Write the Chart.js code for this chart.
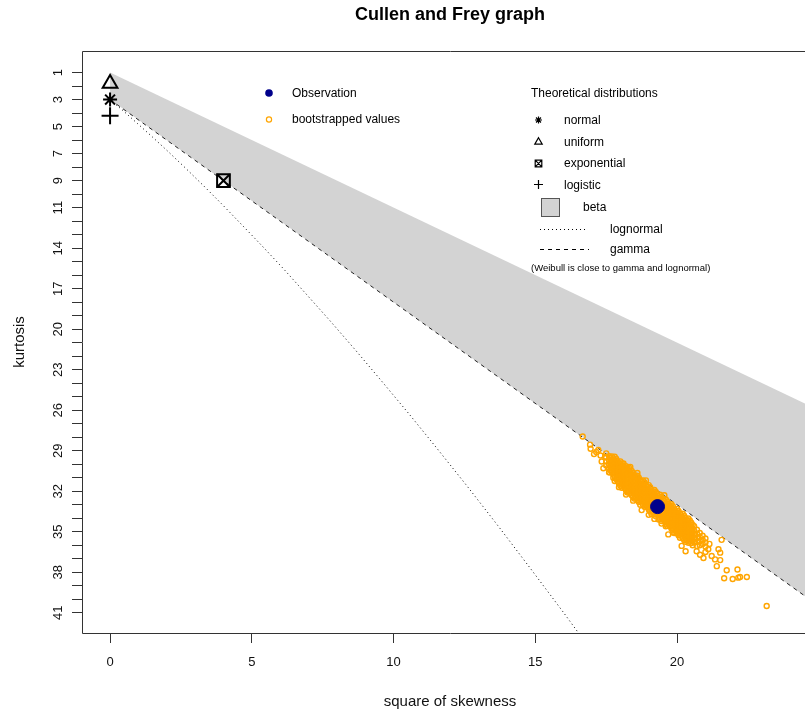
<!DOCTYPE html>
<html lang="en">
  <head>
    <meta charset="UTF-8" />
    <title>Cullen and Frey graph</title>
    <style>
      html, body { margin: 0; padding: 0; background: #fff; overflow: hidden; }
      #wrap { width: 805px; height: 714px; overflow: hidden; position: relative; }
    </style>
  </head>
  <body>
    <div id="wrap">
      <canvas id="cullenFrey" width="818" height="714"></canvas>
    </div>
    <script src="https://cdn.jsdelivr.net/npm/chart.js"></script>
    <script>
      // axis ticks
      const xTickValues = [0, 5, 10, 15, 20];
      const yTickLabels = [1, 3, 5, 7, 9, 11, 14, 17, 20, 23, 26, 29, 32, 35, 38, 41];

      // observed point (square of skewness, kurtosis)
      const observation = [19.31, 33.14];

      // theoretical distributions
      const normalPoint = [0, 3];
      const uniformPoint = [0, 1.8];
      const exponentialPoint = [4, 9];
      const logisticPoint = [0, 4.2];

      // beta region upper limit and gamma line (lower limit)
      const betaSkew = [0, 25];
      const betaKurt = [1, 26];
      const gammaSkew = [0, 25];
      const gammaKurt = [3, 40.5];

      // lognormal curve
      const lognormalSkew = [0, 0.47, 0.96, 1.49, 2.05, 2.64, 3.27, 3.93, 4.62, 5.36, 6.13, 6.93, 7.78, 8.66, 9.58, 10.55, 11.55, 12.6, 13.69, 14.82, 16.0, 17.22];
      const lognormalKurt = [3, 3.84, 4.76, 5.76, 6.85, 8.03, 9.32, 10.71, 12.21, 13.83, 15.56, 17.43, 19.43, 21.56, 23.85, 26.29, 28.88, 31.64, 34.58, 37.7, 41.0, 44.5];

      // bootstrapped values [square of skewness, kurtosis]
      const bootstrapPoints = [
        [17.5, 29.2], [17.5, 29.5], [17.5, 29.8], [17.5, 30.1],
        [17.6, 29.4], [17.6, 29.7], [17.6, 30.0], [17.6, 30.3], [17.6, 30.6],
        [17.65, 29.55], [17.65, 29.85], [17.65, 30.15], [17.65, 30.45],
        [17.7, 29.42], [17.7, 29.72], [17.7, 30.02], [17.7, 30.32], [17.7, 30.62],
        [17.75, 29.57], [17.75, 29.87], [17.75, 30.17], [17.75, 30.47], [17.75, 30.77],
        [17.8, 29.44], [17.8, 29.74], [17.8, 30.04], [17.8, 30.34], [17.8, 30.64], [17.8, 30.94], [17.8, 31.24],
        [17.85, 29.59], [17.85, 29.89], [17.85, 30.19], [17.85, 30.49], [17.85, 30.79], [17.85, 31.09],
        [17.9, 29.77], [17.9, 30.07], [17.9, 30.37], [17.9, 30.67], [17.9, 30.97], [17.9, 31.27],
        [17.95, 29.92], [17.95, 30.22], [17.95, 30.52], [17.95, 30.82], [17.95, 31.12], [17.95, 31.42],
        [18.0, 29.79], [18.0, 30.09], [18.0, 30.39], [18.0, 30.69], [18.0, 30.99], [18.0, 31.29], [18.0, 31.59],
        [18.05, 29.94], [18.05, 30.24], [18.05, 30.54], [18.05, 30.84], [18.05, 31.14], [18.05, 31.44], [18.05, 31.74],
        [18.1, 30.12], [18.1, 30.42], [18.1, 30.72], [18.1, 31.02], [18.1, 31.32], [18.1, 31.62],
        [18.15, 30.27], [18.15, 30.57], [18.15, 30.87], [18.15, 31.17], [18.15, 31.47], [18.15, 31.77],
        [18.2, 30.15], [18.2, 30.45], [18.2, 30.75], [18.2, 31.05], [18.2, 31.35], [18.2, 31.65], [18.2, 31.95],
        [18.25, 30.3], [18.25, 30.6], [18.25, 30.9], [18.25, 31.2], [18.25, 31.5], [18.25, 31.8], [18.25, 32.1],
        [18.3, 30.47], [18.3, 30.77], [18.3, 31.07], [18.3, 31.37], [18.3, 31.67], [18.3, 31.97],
        [18.35, 30.62], [18.35, 30.92], [18.35, 31.22], [18.35, 31.52], [18.35, 31.82], [18.35, 32.12],
        [18.4, 30.5], [18.4, 30.8], [18.4, 31.1], [18.4, 31.4], [18.4, 31.7], [18.4, 32.0], [18.4, 32.3],
        [18.45, 30.65], [18.45, 30.95], [18.45, 31.25], [18.45, 31.55], [18.45, 31.85], [18.45, 32.15], [18.45, 32.45],
        [18.5, 30.82], [18.5, 31.12], [18.5, 31.42], [18.5, 31.72], [18.5, 32.02], [18.5, 32.32],
        [18.55, 30.97], [18.55, 31.27], [18.55, 31.57], [18.55, 31.87], [18.55, 32.17], [18.55, 32.47],
        [18.6, 30.85], [18.6, 31.15], [18.6, 31.45], [18.6, 31.75], [18.6, 32.05], [18.6, 32.35], [18.6, 32.65],
        [18.65, 31.0], [18.65, 31.3], [18.65, 31.6], [18.65, 31.9], [18.65, 32.2], [18.65, 32.5], [18.65, 32.8],
        [18.7, 31.18], [18.7, 31.48], [18.7, 31.78], [18.7, 32.08], [18.7, 32.38], [18.7, 32.68],
        [18.75, 31.33], [18.75, 31.63], [18.75, 31.93], [18.75, 32.23], [18.75, 32.53], [18.75, 32.83],
        [18.8, 31.2], [18.8, 31.5], [18.8, 31.8], [18.8, 32.1], [18.8, 32.4], [18.8, 32.7], [18.8, 33.0],
        [18.85, 31.35], [18.85, 31.65], [18.85, 31.95], [18.85, 32.25], [18.85, 32.55], [18.85, 32.85], [18.85, 33.15],
        [18.9, 31.53], [18.9, 31.83], [18.9, 32.13], [18.9, 32.43], [18.9, 32.73], [18.9, 33.03],
        [18.95, 31.68], [18.95, 31.98], [18.95, 32.28], [18.95, 32.58], [18.95, 32.88], [18.95, 33.18],
        [19.0, 31.55], [19.0, 31.85], [19.0, 32.15], [19.0, 32.45], [19.0, 32.75], [19.0, 33.05], [19.0, 33.35],
        [19.05, 31.7], [19.05, 32.0], [19.05, 32.3], [19.05, 32.6], [19.05, 32.9], [19.05, 33.2], [19.05, 33.5],
        [19.1, 31.88], [19.1, 32.18], [19.1, 32.48], [19.1, 32.78], [19.1, 33.08], [19.1, 33.38],
        [19.15, 32.03], [19.15, 32.33], [19.15, 32.63], [19.15, 32.93], [19.15, 33.23], [19.15, 33.53],
        [19.2, 31.91], [19.2, 32.21], [19.2, 32.51], [19.2, 32.81], [19.2, 33.11], [19.2, 33.41], [19.2, 33.71],
        [19.25, 32.06], [19.25, 32.36], [19.25, 32.66], [19.25, 32.96], [19.25, 33.26], [19.25, 33.56], [19.25, 33.86],
        [19.3, 32.23], [19.3, 32.53], [19.3, 32.83], [19.3, 33.13], [19.3, 33.43], [19.3, 33.73],
        [19.35, 32.38], [19.35, 32.68], [19.35, 32.98], [19.35, 33.28], [19.35, 33.58], [19.35, 33.88],
        [19.4, 32.26], [19.4, 32.56], [19.4, 32.86], [19.4, 33.16], [19.4, 33.46], [19.4, 33.76], [19.4, 34.06],
        [19.45, 32.41], [19.45, 32.71], [19.45, 33.01], [19.45, 33.31], [19.45, 33.61], [19.45, 33.91], [19.45, 34.21],
        [19.5, 32.58], [19.5, 32.88], [19.5, 33.18], [19.5, 33.48], [19.5, 33.78], [19.5, 34.08],
        [19.55, 32.73], [19.55, 33.03], [19.55, 33.33], [19.55, 33.63], [19.55, 33.93], [19.55, 34.23],
        [19.6, 32.61], [19.6, 32.91], [19.6, 33.21], [19.6, 33.51], [19.6, 33.81], [19.6, 34.11], [19.6, 34.41],
        [19.65, 32.76], [19.65, 33.06], [19.65, 33.36], [19.65, 33.66], [19.65, 33.96], [19.65, 34.26], [19.65, 34.56],
        [19.7, 32.94], [19.7, 33.24], [19.7, 33.54], [19.7, 33.84], [19.7, 34.14], [19.7, 34.44],
        [19.75, 33.09], [19.75, 33.39], [19.75, 33.69], [19.75, 33.99], [19.75, 34.29], [19.75, 34.59],
        [19.8, 32.96], [19.8, 33.26], [19.8, 33.56], [19.8, 33.86], [19.8, 34.16], [19.8, 34.46], [19.8, 34.76],
        [19.85, 33.11], [19.85, 33.41], [19.85, 33.71], [19.85, 34.01], [19.85, 34.31], [19.85, 34.61], [19.85, 34.91],
        [19.9, 33.29], [19.9, 33.59], [19.9, 33.89], [19.9, 34.19], [19.9, 34.49], [19.9, 34.79],
        [19.95, 33.44], [19.95, 33.74], [19.95, 34.04], [19.95, 34.34], [19.95, 34.64], [19.95, 34.94],
        [20.0, 33.31], [20.0, 33.61], [20.0, 33.91], [20.0, 34.21], [20.0, 34.51], [20.0, 34.81], [20.0, 35.11],
        [20.05, 33.46], [20.05, 33.76], [20.05, 34.06], [20.05, 34.36], [20.05, 34.66], [20.05, 34.96], [20.05, 35.26],
        [20.1, 33.64], [20.1, 33.94], [20.1, 34.24], [20.1, 34.54], [20.1, 34.84], [20.1, 35.14],
        [20.15, 33.79], [20.15, 34.09], [20.15, 34.39], [20.15, 34.69], [20.15, 34.99], [20.15, 35.29],
        [20.2, 33.67], [20.2, 33.97], [20.2, 34.27], [20.2, 34.57], [20.2, 34.87], [20.2, 35.17], [20.2, 35.47],
        [20.25, 33.82], [20.25, 34.12], [20.25, 34.42], [20.25, 34.72], [20.25, 35.02], [20.25, 35.32], [20.25, 35.62],
        [20.3, 33.99], [20.3, 34.29], [20.3, 34.59], [20.3, 34.89], [20.3, 35.19], [20.3, 35.49],
        [20.35, 34.14], [20.35, 34.44], [20.35, 34.74], [20.35, 35.04], [20.35, 35.34], [20.35, 35.64],
        [20.4, 34.02], [20.4, 34.32], [20.4, 34.62], [20.4, 34.92], [20.4, 35.22], [20.4, 35.52], [20.4, 35.82],
        [20.45, 34.17], [20.45, 34.47], [20.45, 34.77], [20.45, 35.07], [20.45, 35.37], [20.45, 35.67],
        [20.5, 34.34], [20.5, 34.64], [20.5, 34.94], [20.5, 35.24], [20.5, 35.54], [20.5, 35.84],
        [20.55, 34.49], [20.55, 34.79], [20.55, 35.09], [20.55, 35.39], [20.55, 35.69],
        [20.6, 34.6], [20.6, 34.9], [20.6, 35.2], [20.6, 35.5], [20.6, 35.8],
        [20.7, 34.85], [20.7, 35.15], [20.7, 35.45], [20.7, 35.75], [20.7, 36.05],
        [20.8, 35.1], [20.8, 35.4], [20.8, 35.7], [20.8, 36.0],
        [20.9, 35.3], [20.9, 35.6], [20.9, 35.9],
        [21.0, 35.5], [21.0, 35.8], [21.0, 36.1],
        [16.67, 27.95], [16.93, 28.55], [16.95, 28.85], [17.07, 29.25], [17.22, 28.95],
        [17.15, 29.1], [17.3, 29.35], [17.34, 29.8], [17.46, 29.45], [17.61, 30.6],
        [17.4, 30.3], [17.75, 31.0], [18.11, 29.95], [17.95, 31.35], [18.25, 32.0],
        [18.5, 32.55], [18.75, 33.4], [19.0, 33.75], [19.2, 34.05], [19.45, 34.4],
        [19.69, 35.2], [19.9, 35.1], [20.1, 35.45], [20.16, 36.05], [20.3, 36.45],
        [20.55, 36.0], [20.69, 36.45], [20.81, 36.7], [20.93, 36.95], [21.0, 36.5],
        [21.1, 36.3], [21.14, 35.9], [21.22, 36.8], [21.34, 37.05], [21.46, 36.3],
        [21.52, 36.55], [21.57, 35.6], [21.4, 37.55], [21.52, 37.1], [21.75, 37.85],
        [22.13, 37.8], [21.66, 38.45], [21.96, 38.5], [22.16, 38.4], [22.22, 38.35],
        [22.46, 38.35], [23.16, 40.5], [18.35, 30.2], [18.9, 31.2], [19.55, 32.3],
        [18.45, 32.7], [18.7, 33.0], [19.1, 33.7], [19.35, 34.1], [19.6, 34.6],
        [19.85, 35.05], [20.3, 35.75], [18.2, 32.25], [17.95, 31.7], [18.3, 30.25], [18.6, 30.65]
      ];

      const FONT = '"Liberation Sans", Arial, Helvetica, sans-serif';
      Chart.defaults.font.family = FONT;

      const toXY = (xs, ys) => xs.map((x, i) => ({ x: x, y: ys[i] }));
      const onePoint = (p) => [{ x: p[0], y: p[1] }];

      // small symbols for the hand-placed legends
      function symbol(ctx, style, x, y, r) {
        ctx.beginPath();
        if (style === "circle") {
          ctx.arc(x, y, r, 0, Math.PI * 2);
        } else if (style === "triangle") {
          ctx.moveTo(x, y - r);
          ctx.lineTo(x + r * 0.866, y + r / 2);
          ctx.lineTo(x - r * 0.866, y + r / 2);
          ctx.closePath();
        } else if (style === "cross") {
          ctx.moveTo(x - r, y); ctx.lineTo(x + r, y);
          ctx.moveTo(x, y - r); ctx.lineTo(x, y + r);
        } else if (style === "star") {
          const d = r * 0.707;
          ctx.moveTo(x - r, y); ctx.lineTo(x + r, y);
          ctx.moveTo(x, y - r); ctx.lineTo(x, y + r);
          ctx.moveTo(x - d, y - d); ctx.lineTo(x + d, y + d);
          ctx.moveTo(x - d, y + d); ctx.lineTo(x + d, y - d);
        } else if (style === "boxX") {
          ctx.rect(x - r, y - r, 2 * r, 2 * r);
          ctx.moveTo(x - r, y - r); ctx.lineTo(x + r, y + r);
          ctx.moveTo(x - r, y + r); ctx.lineTo(x + r, y - r);
        }
      }

      const decorPlugin = {
        id: "decor",
        afterDraw(chart) {
          const ctx = chart.ctx;
          const a = chart.chartArea;
          ctx.save();

          // plot box
          ctx.strokeStyle = "#333";
          ctx.lineWidth = 1;
          ctx.beginPath();
          ctx.rect(Math.round(a.left) + 0.5, Math.round(a.top) + 0.5, Math.round(a.right - a.left), Math.round(a.bottom - a.top));
          ctx.stroke();

          // main title
          ctx.fillStyle = "#000";
          ctx.textAlign = "center";
          ctx.textBaseline = "middle";
          ctx.font = "bold 18px " + FONT;
          ctx.fillText("Cullen and Frey graph", 450, 15);

          // legend: observation / bootstrap
          ctx.textAlign = "left";
          ctx.font = "12px " + FONT;
          ctx.fillStyle = "#00008B";
          symbol(ctx, "circle", 269, 93, 3.8);
          ctx.fill();
          ctx.strokeStyle = "#FFA500";
          ctx.lineWidth = 1.2;
          symbol(ctx, "circle", 269, 119.5, 2.6);
          ctx.stroke();
          ctx.fillStyle = "#000";
          ctx.fillText("Observation", 292, 94);
          ctx.fillText("bootstrapped values", 292, 120);

          // legend: theoretical distributions
          ctx.fillText("Theoretical distributions", 531, 94);
          ctx.strokeStyle = "#000";
          ctx.lineWidth = 1.2;
          symbol(ctx, "star", 538.5, 120, 3.5); ctx.stroke();
          symbol(ctx, "triangle", 538.5, 142, 4.3); ctx.stroke();
          symbol(ctx, "boxX", 538.5, 163.5, 3.3); ctx.stroke();
          symbol(ctx, "cross", 538.5, 184.5, 4.5); ctx.stroke();
          ctx.lineWidth = 1;
          ctx.fillText("normal", 564, 121);
          ctx.fillText("uniform", 564, 142.5);
          ctx.fillText("exponential", 564, 164);
          ctx.fillText("logistic", 564, 185.5);

          ctx.fillStyle = "#d3d3d3";
          ctx.strokeStyle = "#555";
          ctx.fillRect(541.5, 198.5, 18, 18);
          ctx.strokeRect(541.5, 198.5, 18, 18);
          ctx.fillStyle = "#000";
          ctx.fillText("beta", 583, 207.5);

          ctx.strokeStyle = "#000";
          ctx.setLineDash([1, 3]);
          ctx.beginPath(); ctx.moveTo(540, 229.5); ctx.lineTo(585, 229.5); ctx.stroke();
          ctx.setLineDash([4, 4]);
          ctx.beginPath(); ctx.moveTo(540, 249.5); ctx.lineTo(589, 249.5); ctx.stroke();
          ctx.setLineDash([]);
          ctx.fillText("lognormal", 610, 229.5);
          ctx.fillText("gamma", 610, 249.5);

          ctx.font = "9.5px " + FONT;
          ctx.fillText("(Weibull is close to gamma and lognormal)", 531, 268.5);
          ctx.restore();
        }
      };

      const canvas = document.getElementById("cullenFrey");
      const chart = new Chart(canvas.getContext("2d"), {
        type: "scatter",
        data: {
          datasets: [
            {
              label: "Observation",
              data: onePoint(observation),
              pointRadius: 7,
              pointBackgroundColor: "#00008B",
              pointBorderColor: "#00008B",
              pointBorderWidth: 1,
              order: 0,
            },
            {
              label: "bootstrapped values",
              data: bootstrapPoints.map((p) => ({ x: p[0], y: p[1] })),
              pointRadius: 2.5,
              pointBorderWidth: 1.4,
              pointBorderColor: "#FFA500",
              pointBackgroundColor: "rgba(0,0,0,0)",
              order: 2,
            },
            {
              label: "normal",
              data: onePoint(normalPoint),
              pointStyle: "star",
              pointRadius: 7,
              pointBorderWidth: 2,
              pointBorderColor: "#000",
              order: 1,
            },
            {
              label: "uniform",
              data: onePoint(uniformPoint),
              pointStyle: "triangle",
              pointRadius: 8.5,
              pointBorderWidth: 2,
              pointBorderColor: "#000",
              pointBackgroundColor: "rgba(0,0,0,0)",
              order: 1,
            },
            {
              label: "exponential",
              data: onePoint(exponentialPoint),
              pointStyle: "rect",
              pointRadius: 9,
              pointBorderWidth: 2,
              pointBorderColor: "#000",
              pointBackgroundColor: "rgba(0,0,0,0)",
              order: 1,
            },
            {
              label: "exponential",
              data: onePoint(exponentialPoint),
              pointStyle: "crossRot",
              pointRadius: 9,
              pointBorderWidth: 2,
              pointBorderColor: "#000",
              order: 1,
            },
            {
              label: "logistic",
              data: onePoint(logisticPoint),
              pointStyle: "cross",
              pointRadius: 8.5,
              pointBorderWidth: 2,
              pointBorderColor: "#000",
              order: 1,
            },
            {
              type: "line",
              label: "lognormal",
              data: toXY(lognormalSkew, lognormalKurt),
              borderColor: "#000",
              borderWidth: 1,
              borderDash: [1, 3],
              pointRadius: 0,
              fill: false,
              tension: 0,
              order: 5,
            },
            {
              type: "line",
              label: "gamma",
              data: toXY(gammaSkew, gammaKurt),
              borderColor: "#222",
              borderWidth: 1,
              borderDash: [4, 4],
              pointRadius: 0,
              fill: false,
              order: 6,
            },
            {
              type: "line",
              label: "beta",
              data: toXY(betaSkew, betaKurt),
              borderColor: "rgba(0,0,0,0)",
              borderWidth: 0,
              backgroundColor: "#d3d3d3",
              pointRadius: 0,
              fill: 8,
              order: 7,
            },
          ],
        },
        options: {
          responsive: false,
          animation: false,
          devicePixelRatio: 1,
          events: [],
          layout: { autoPadding: false, padding: { top: 51, right: 0, bottom: 0, left: 0 } },
          plugins: {
            legend: { display: false },
            tooltip: { enabled: false },
          },
          scales: {
            x: {
              type: "linear",
              min: -0.99,
              max: 24.97,
              afterFit: (s) => { s.height = 81; },
              afterBuildTicks: (s) => { s.ticks = s.ticks.filter((t) => xTickValues.includes(t.value)); },
              ticks: {
                stepSize: 5,
                includeBounds: false,
                autoSkip: false,
                maxRotation: 0,
                padding: 12,
                color: "#111",
                font: { size: 13 },
              },
              grid: { drawOnChartArea: false, drawTicks: true, tickLength: 10, tickColor: "#333" },
              border: { display: false },
              title: {
                display: true,
                text: "square of skewness",
                color: "#111",
                font: { size: 15 },
                padding: { top: 0, bottom: 3 },
              },
            },
            y: {
              type: "linear",
              reverse: true,
              min: -0.6,
              max: 42.5,
              afterFit: (s) => { s.width = 82; },
              afterBuildTicks: (s) => { s.ticks = s.ticks.filter((t) => t.value >= 1 && t.value <= 41); },
              ticks: {
                stepSize: 1,
                includeBounds: false,
                autoSkip: false,
                minRotation: 90,
                maxRotation: 90,
                crossAlign: "center",
                padding: 6,
                color: "#111",
                font: { size: 13 },
                callback: (v) => (yTickLabels.includes(v) ? String(v) : ""),
              },
              grid: { drawOnChartArea: false, drawTicks: true, tickLength: 10, tickColor: "#333" },
              border: { display: false },
              title: {
                display: true,
                text: "kurtosis",
                color: "#111",
                font: { size: 15 },
                padding: { top: 11, bottom: 0 },
              },
            },
          },
        },
        plugins: [decorPlugin],
      });
    </script>
  </body>
</html>
